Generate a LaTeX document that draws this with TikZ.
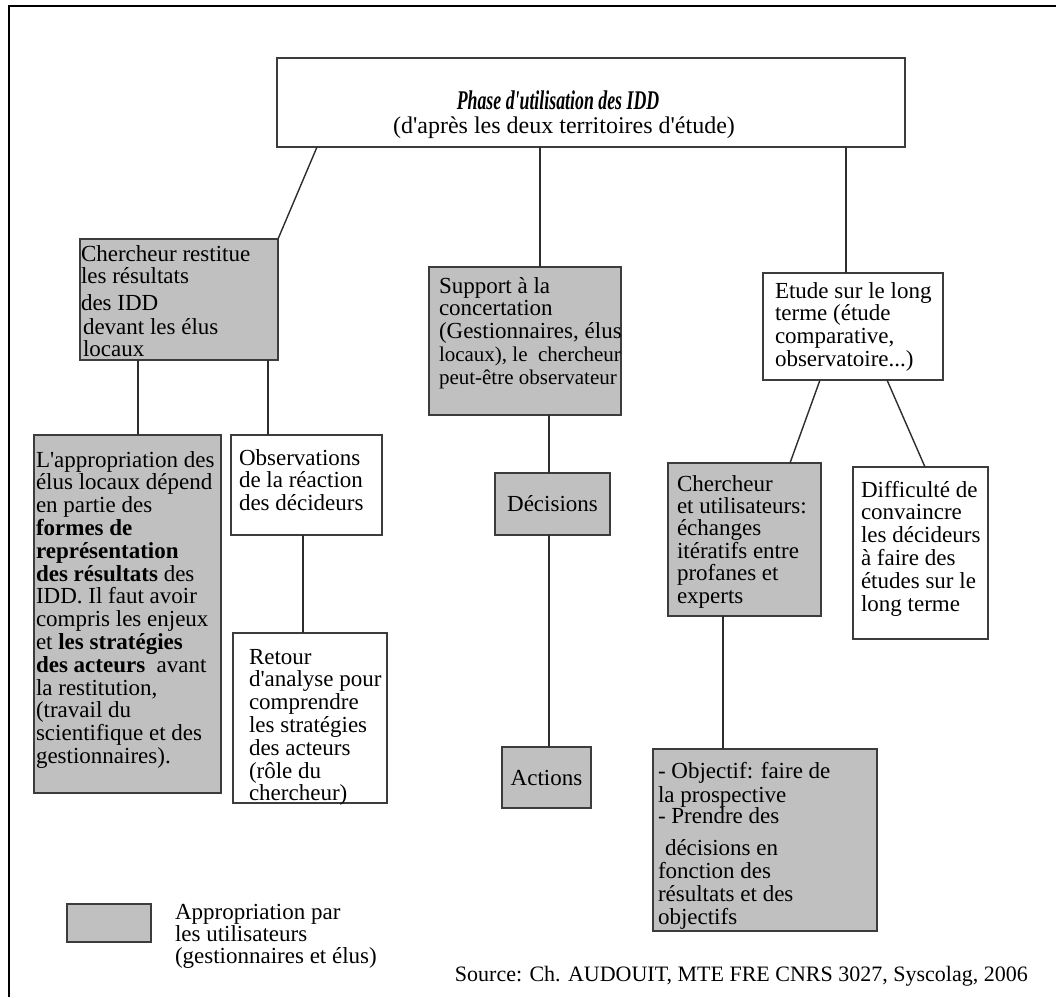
\documentclass[tikz,border=0pt]{standalone}
\usepackage{fontspec}
\setmainfont{Liberation Serif}[Ligatures=TeXOff]
\usetikzlibrary{calc}
\definecolor{boxgray}{RGB}{192,192,192}
\definecolor{boxline}{RGB}{60,60,60}
\definecolor{linecol}{RGB}{45,45,45}
\newcommand{\topstrut}{\rule{0pt}{18pt}}
\begin{document}
\begin{tikzpicture}[x=1pt,y=-1pt,
  box/.style={draw=boxline, line width=1.4pt, anchor=north west, inner sep=0pt, outer sep=0pt},
  gbox/.style={box, fill=boxgray},
  wbox/.style={box, fill=white},
  txt/.style={anchor=north west, inner sep=0pt, outer sep=0pt, align=left, font=\fontsize{23}{22.8}\selectfont},
  link/.style={draw=linecol, line width=1.4pt}]
\useasboundingbox[fill=white] (0,0) rectangle (1056,997);
% frame
\draw[line width=2pt, black] (9,997) -- (9,6) -- (1056,6);

% boxes
\node[wbox, minimum width=628, minimum height=89] (title) at (277,58) {};
\node[gbox, minimum width=198, minimum height=121] (c1) at (80,239) {};
\node[gbox, minimum width=187, minimum height=358] (tall) at (34,435) {};
\node[wbox, minimum width=151, minimum height=100] (obs) at (231,435) {};
\node[wbox, minimum width=154, minimum height=170] (retour) at (233,633) {};
\node[gbox, minimum width=192, minimum height=148] (sup) at (429,267) {};
\node[gbox, minimum width=115, minimum height=62, font=\fontsize{23}{22.8}\selectfont] (dec) at (495,473) {Décisions};
\node[gbox, minimum width=89, minimum height=61, font=\fontsize{23}{22.8}\selectfont] (act) at (502,747) {Actions};
\node[wbox, minimum width=180, minimum height=107] (etude) at (763,273) {};
\node[gbox, minimum width=153, minimum height=153] (cu) at (668,463) {};
\node[wbox, minimum width=135, minimum height=172] (diff) at (853,467) {};
\node[gbox, minimum width=224, minimum height=182] (obj) at (653,749) {};
\node[gbox, minimum width=84, minimum height=38] (leg) at (67,904) {};

% connectors
\draw[link] ($(title.south west)+(40,0)$) -- (c1.north east);
\coordinate (pm) at ($(sup.north west)+(111,0)$);
\draw[link] (pm |- title.south) -- (pm);
\coordinate (pr) at ($(etude.north west)+(83,0)$);
\draw[link] (pr |- title.south) -- (pr);
\coordinate (pa) at ($(tall.north west)+(104,0)$);
\draw[link] (pa |- c1.south) -- (pa);
\coordinate (pb) at ($(obs.north west)+(37,0)$);
\draw[link] (pb |- c1.south) -- (pb);
\coordinate (pc) at ($(retour.north west)+(70,0)$);
\draw[link] (pc |- obs.south) -- (pc);
\coordinate (pd) at ($(dec.north west)+(54,0)$);
\draw[link] (pd |- sup.south) -- (pd);
\draw[link] (pd |- dec.south) -- (pd |- act.north);
\draw[link] ($(etude.south west)+(57,0)$) -- ($(cu.north west)+(122,0)$);
\draw[link] ($(etude.south west)+(124,0)$) -- ($(diff.north west)+(72,0)$);
\coordinate (pe) at ($(obj.north west)+(70,0)$);
\draw[link] (pe |- cu.south) -- (pe);

% title text
\node[anchor=base, inner sep=0pt, font=\fontsize{27}{29}\selectfont] (tt1) at (558,109)
  {\scalebox{0.66}[1]{\bfseries\itshape Phase d'utilisation des IDD}};
\node[anchor=base, inner sep=0pt, font=\fontsize{24}{26}\selectfont] (tt2) at (564,133)
  {(d'après les deux territoires d'étude)};

% box texts
\node[txt] (c1t) at (81,243) {\topstrut Chercheur restitue\\[0pt]
  les résultats\\[4pt]
  des IDD\\[1pt]
  \hspace*{2pt}devant  les élus\\[-1pt]
  \hspace*{2pt}locaux};

\node[txt] (tallt) at (36,449) {\topstrut L'appropriation des\\
  élus locaux dépend\\
  en partie des\\
  \textbf{formes de}\\
  \textbf{représentation}\\
  \textbf{des résultats} des\\
  IDD. Il faut avoir\\
  compris les enjeux\\
  et \textbf{les stratégies}\\
  \textbf{des acteurs}\ \ avant\\
  la restitution,\\
  (travail du\\
  scientifique et des\\
  gestionnaires).};

\node[txt] (obst) at (239,447) {\topstrut Observations\\
  de la réaction\\
  des décideurs};

\node[txt] (rett) at (249,646) {\topstrut Retour\\
  d'analyse pour\\
  comprendre\\
  les stratégies\\
  des acteurs\\
  (rôle du\\
  chercheur)};

\node[txt] (supt) at (439,275) {\topstrut Support à la\\
  concertation\\
  (Gestionnaires, élus\\
  {\fontsize{21}{22.8}\selectfont locaux), le\ \ chercheur}\\
  {\fontsize{21}{22.8}\selectfont peut-être observateur}};

\node[txt] (etut) at (775,280) {\topstrut Etude sur le long\\
  terme (étude\\
  comparative,\\
  observatoire...)};

\node[txt] (cut) at (677,473) {\topstrut Chercheur\\[-0.4pt]
  et utilisateurs:\\[-0.4pt]
  échanges\\[-0.4pt]
  itératifs entre\\[-0.4pt]
  profanes et\\[-0.4pt]
  experts};

\node[txt] (difft) at (861,479) {\topstrut Difficulté de\\
  convaincre\\
  les décideurs\\
  à faire des\\
  études sur le\\
  long terme};

\node[txt] (objt) at (658,760) {\topstrut - Objectif: faire de\\[1.2pt]
  la prospective\\[-1.8pt]
  - Prendre des\\[10pt]
  \hspace*{7pt}décisions en\\[-0.4pt]
  fonction des\\[0.4pt]
  résultats et des\\[0.4pt]
  objectifs};

% legend
\node[txt, font=\fontsize{23}{22}\selectfont] (legt) at (175,901) {\topstrut Appropriation par\\
  les utilisateurs\\
  (gestionnaires et élus)};

% source
\node[anchor=base east, inner sep=0pt, font=\fontsize{22}{24}\selectfont] (src) at (1028,981)
  {Source: Ch. AUDOUIT, MTE FRE CNRS 3027, Syscolag, 2006};
\end{tikzpicture}
\end{document}
